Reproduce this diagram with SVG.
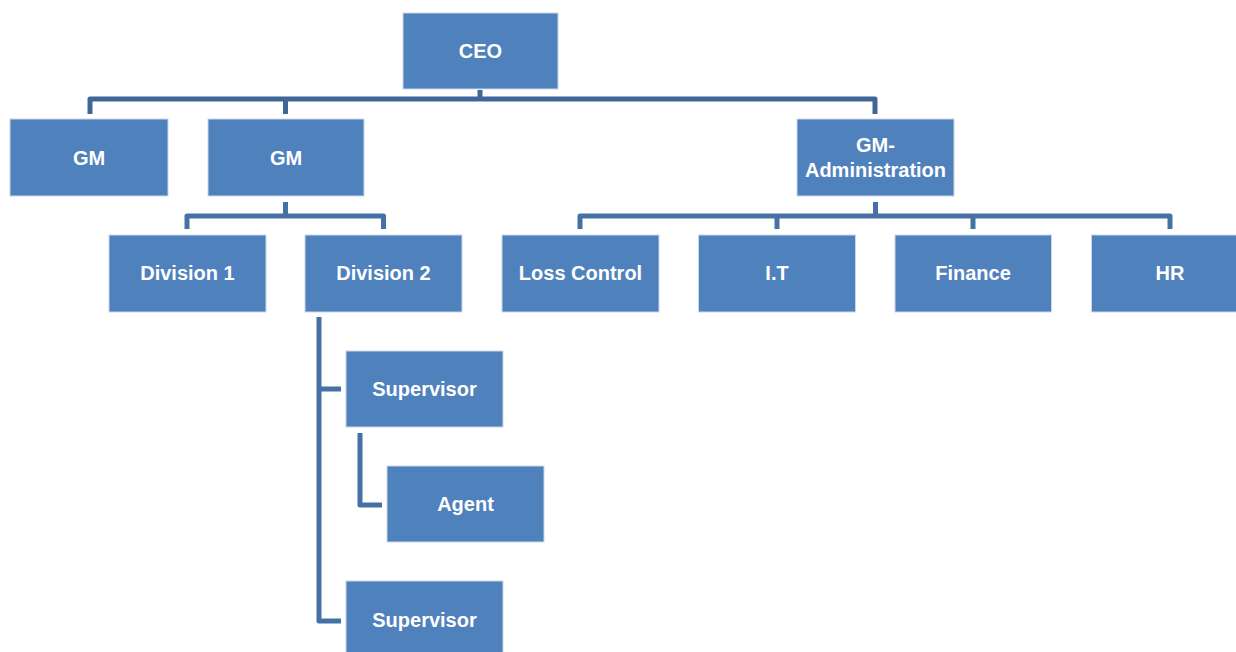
<svg xmlns="http://www.w3.org/2000/svg" width="1236" height="652" viewBox="0 0 1236 652">
<style>
.box{fill:#4F81BD;stroke:#C9D7EA;stroke-width:1}
.lbl{fill:#FFFFFF;font-family:"Liberation Sans",Arial,sans-serif;font-weight:bold;font-size:20px;text-anchor:middle}
.con{fill:none;stroke:#4571A6;stroke-width:5;stroke-linejoin:round;stroke-linecap:butt}
.con.top{stroke:#3F6699}
</style>
<rect width="1236" height="652" fill="#FFFFFF"/>
<g id="connectors">
<path class="con top" d="M480,90 V99 M90,114 V99 H875 V114 M285.5,99 V114"/>
<path class="con" d="M285.5,202 V216 M187,229 V216 H383.5 V229"/>
<path class="con" d="M875.5,202 V216 M580,229 V216 H1170 V229 M777,216 V229 M973,216 V229"/>
<path class="con" d="M319,317 V621 H341 M319,389 H341"/>
<path class="con" d="M360,433 V505 H382"/>
</g>
<g id="ceo"><rect class="box" x="403" y="13" width="155" height="76"/><text class="lbl" x="480.5" y="58">CEO</text></g>
<g id="gm1"><rect class="box" x="10" y="119" width="158" height="77"/><text class="lbl" x="89" y="165">GM</text></g>
<g id="gm2"><rect class="box" x="208" y="119" width="156" height="77"/><text class="lbl" x="286" y="165">GM</text></g>
<g id="gm-admin"><rect class="box" x="797" y="119" width="157" height="77"/><text class="lbl" x="875.5" y="152">GM-</text><text class="lbl" x="875.5" y="177">Administration</text></g>
<g id="division1"><rect class="box" x="109" y="235" width="157" height="77"/><text class="lbl" x="187.5" y="280">Division 1</text></g>
<g id="division2"><rect class="box" x="305" y="235" width="157" height="77"/><text class="lbl" x="383.5" y="280">Division 2</text></g>
<g id="loss-control"><rect class="box" x="502" y="235" width="157" height="77"/><text class="lbl" x="580.5" y="280">Loss Control</text></g>
<g id="it"><rect class="box" x="698.5" y="235" width="157" height="77"/><text class="lbl" x="777" y="280">I.T</text></g>
<g id="finance"><rect class="box" x="895" y="235" width="156.5" height="77"/><text class="lbl" x="973" y="280">Finance</text></g>
<g id="hr"><rect class="box" x="1091.5" y="235" width="157" height="77"/><text class="lbl" x="1170" y="280">HR</text></g>
<g id="supervisor1"><rect class="box" x="346" y="351" width="157" height="76"/><text class="lbl" x="424.5" y="396">Supervisor</text></g>
<g id="agent"><rect class="box" x="387" y="466" width="157" height="76"/><text class="lbl" x="465.5" y="511">Agent</text></g>
<g id="supervisor2"><rect class="box" x="346" y="581" width="157" height="80"/><text class="lbl" x="424.5" y="627">Supervisor</text></g>
</svg>
